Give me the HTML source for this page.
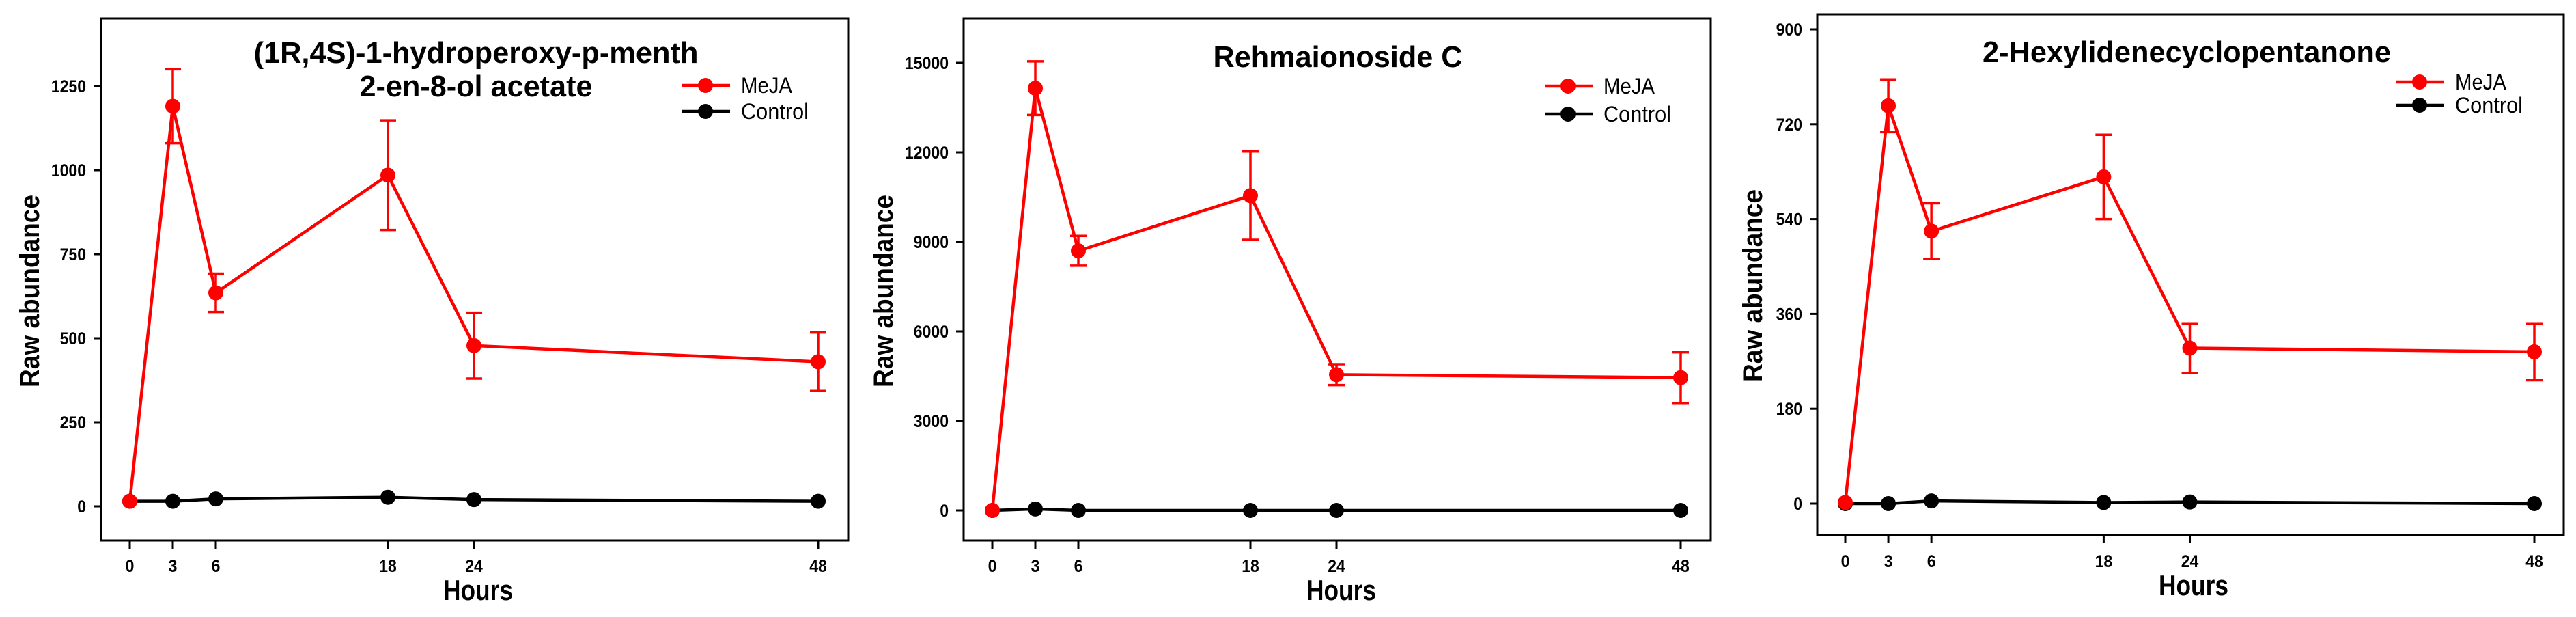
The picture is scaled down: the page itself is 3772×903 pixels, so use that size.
<!DOCTYPE html>
<html><head><meta charset="utf-8"><style>
html,body{margin:0;padding:0;background:#fff;}
svg{display:block;font-family:"Liberation Sans",Arial,sans-serif;}
</style></head><body>
<svg id="chart" width="3772" height="903" viewBox="0 0 3772 903" xmlns="http://www.w3.org/2000/svg"></svg>
<script>
// ---- data ----
const hours = [0, 3, 6, 18, 24, 48];
const xTickLabels = ["0", "3", "6", "18", "24", "48"];
const titles1 = ["(1R,4S)-1-hydroperoxy-p-menth", "2-en-8-ol acetate"];
const titles2 = ["Rehmaionoside C"];
const titles3 = ["2-Hexylidenecyclopentanone"];
const meja1 = [15, 1190, 635, 985, 478, 430];
const mejaErr1 = [0, 110, 57, 163, 98, 87];
const ctrl1 = [15, 15, 22, 27, 20, 15];
const yTicks1 = [0, 250, 500, 750, 1000, 1250];
const meja2 = [0, 14150, 8700, 10550, 4550, 4450];
const mejaErr2 = [0, 900, 500, 1480, 350, 850];
const ctrl2 = [0, 50, 0, 0, 0, 0];
const yTicks2 = [0, 3000, 6000, 9000, 12000, 15000];
const meja3 = [2, 755, 517, 620, 295, 288];
const mejaErr3 = [0, 50, 53, 80, 47, 54];
const ctrl3 = [0, 0, 5, 2, 3, 0];
const yTicks3 = [0, 180, 360, 540, 720, 900];

// ---- layout (pixels) ----
const panels = [
  {name:"panel-hydroperoxy", l:148, r:1242, t:27, b:791, x0:190, x48:1198, y0:741, yTopPx:126, yTopVal:1250,
   titles:titles1, titleY:[76,125], titleCx:697, titleW:[651,341], meja:meja1, err:mejaErr1, ctrl:ctrl1, ticks:yTicks1,
   legY:[125,163], legX:999, ytX:42, ytY:426, hoursCx:700, hoursY:878, tickLabY:837},
  {name:"panel-rehmaionoside", l:1411, r:2505, t:27, b:791, x0:1453, x48:2461, y0:747, yTopPx:92, yTopVal:15000,
   titles:titles2, titleY:[82], titleCx:1959, titleW:[365], meja:meja2, err:mejaErr2, ctrl:ctrl2, ticks:yTicks2,
   legY:[126,167], legX:2262, ytX:1292, ytY:426, hoursCx:1964, hoursY:878, tickLabY:837},
  {name:"panel-hexylidene", l:2661, r:3754, t:21, b:783, x0:2702, x48:3711, y0:737, yTopPx:43, yTopVal:900,
   titles:titles3, titleY:[75], titleCx:3202, titleW:[598], meja:meja3, err:mejaErr3, ctrl:ctrl3, ticks:yTicks3,
   legY:[120,154], legX:3509, ytX:2565, ytY:418, hoursCx:3212, hoursY:871, tickLabY:830}
];
const NS = "http://www.w3.org/2000/svg";
const svg = document.getElementById("chart");
function mk(tag, attrs, parent){
  const e = document.createElementNS(NS, tag);
  for (const k in attrs) e.setAttribute(k, attrs[k]);
  (parent||svg).appendChild(e);
  return e;
}
const RED = "#ff0000", BLK = "#000";
panels.forEach(p => {
  const g = mk("g", {});
  
  
  const xs = h => p.x0 + (h / 48) * (p.x48 - p.x0);
  const ys = v => p.y0 - (v / p.yTopVal) * (p.y0 - p.yTopPx);
  const fr = mk("rect", {x:p.l, y:p.t, width:p.r-p.l, height:p.b-p.t, fill:"none", stroke:BLK, "stroke-width":3}, g);
  
  
  p.ticks.forEach(v => {
    const y = ys(v);
    const tk = mk("line", {x1:p.l-11, x2:p.l, y1:y, y2:y, stroke:BLK, "stroke-width":3}, g);
    
    
    const s = String(v);
    const tl = mk("text", {x:p.l-22, y:y+9, "text-anchor":"end", "font-size":25, "font-weight":"bold", textLength:s.length*12.8, lengthAdjust:"spacingAndGlyphs"}, g);
    tl.textContent = s;
    
    
  });
  hours.forEach((h, i) => {
    const x = xs(h);
    const tk = mk("line", {x1:x, x2:x, y1:p.b, y2:p.b+12, stroke:BLK, "stroke-width":3}, g);
    
    
    const s = xTickLabels[i];
    const tl = mk("text", {x:x, y:p.tickLabY, "text-anchor":"middle", "font-size":25, "font-weight":"bold", textLength:s.length*12.8, lengthAdjust:"spacingAndGlyphs"}, g);
    tl.textContent = s;
    
    
  });
  const xt = mk("text", {x:p.hoursCx, y:p.hoursY, "text-anchor":"middle", "font-size":42, "font-weight":"bold", textLength:102, lengthAdjust:"spacingAndGlyphs"}, g);
  xt.textContent = "Hours";
  
  
  const yt = mk("text", {x:0, y:0, "text-anchor":"middle", "font-size":40, "font-weight":"bold", textLength:282, lengthAdjust:"spacingAndGlyphs", transform:`translate(${p.ytX+15},${p.ytY}) rotate(-90)`}, g);
  yt.textContent = "Raw abundance";
  
  
  p.titles.forEach((t, i) => {
    const tt = mk("text", {x:p.titleCx, y:p.titleY[i]+16, "text-anchor":"middle", "font-size":44, "font-weight":"bold", textLength:p.titleW[i], lengthAdjust:"spacingAndGlyphs"}, g);
    tt.textContent = t;
    
    
  });
  function series(vals, color, nm){
    const pts = hours.map((h, i) => xs(h) + "," + ys(vals[i])).join(" ");
    const pl = mk("polyline", {points:pts, fill:"none", stroke:color, "stroke-width":4.5, "stroke-linejoin":"round"}, g);
    
    
  }
  function markers(vals, color, nm){
    hours.forEach((h, i) => {
      const c = mk("ellipse", {cx:xs(h), cy:ys(vals[i]), rx:11, ry:11, fill:color}, g);
      
      
    });
  }
  hours.forEach((h, i) => {
    const e = p.err[i];
    if (!e) return;
    const x = xs(h), y1 = ys(p.meja[i] + e), y2 = ys(p.meja[i] - e);
    const eb = mk("path", {d:`M${x},${y1}V${y2}M${x-12},${y1}H${x+12}M${x-12},${y2}H${x+12}`, stroke:RED, "stroke-width":3.5, fill:"none"}, g);
    
    
  });
  series(p.meja, RED, "meja");
  series(p.ctrl, BLK, "control");
  markers(p.ctrl, BLK, "control");
  markers(p.meja, RED, "meja");
  [["MeJA", RED], ["Control", BLK]].forEach((L, i) => {
    const y = p.legY[i];
    const ll = mk("line", {x1:p.legX, x2:p.legX+70, y1:y, y2:y, stroke:L[1], "stroke-width":4.5}, g);
    
    
    const lc = mk("ellipse", {cx:p.legX+34, cy:y, rx:11, ry:11, fill:L[1]}, g);
    
    
    const lt = mk("text", {x:p.legX+86, y:y+11, "font-size":32, textLength:L[0]=="MeJA"?75:99, lengthAdjust:"spacingAndGlyphs"}, g);
    lt.textContent = L[0];
    
    
  });
});
</script>
</body></html>
